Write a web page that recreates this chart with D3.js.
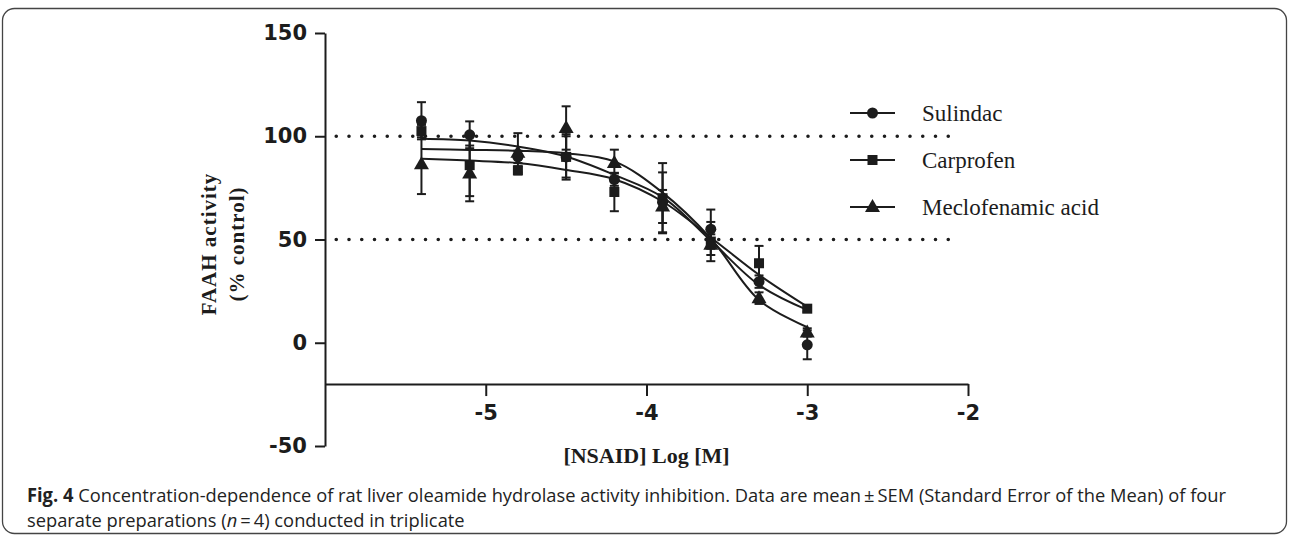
<!DOCTYPE html>
<html>
<head>
<meta charset="utf-8">
<script src="https://cdn.jsdelivr.net/npm/d3@7"></script>
<style>
  html, body { margin: 0; padding: 0; background: #fff; }
  svg { display: block; }
</style>
</head>
<body>
<svg id="chart" width="1290" height="536"></svg>
<script>
// ---------------- DATA ----------------
const logConc = [-5.4, -5.1, -4.8, -4.5, -4.2, -3.9, -3.6, -3.3, -3.0];
const seriesNames = ["Sulindac", "Carprofen", "Meclofenamic acid"];
const seriesShapes = ["circle", "square", "triangle"];

const sulindacMean = [107.5, 100.7, 90, 90, 79, 68, 55, 29.6, -1];
const sulindacSEM  = [9, 6.5, 3, 11, 3, 14.5, 9.5, 3, 7];
const carprofenMean = [102.5, 86, 83.5, 90, 73, 70, 49, 38.5, 16.5];
const carprofenSEM  = [3, 15, 2, 10, 9.3, 17, 9.5, 8.4, 1.5];
const meclofenamicMean = [86.5, 82, 92, 104, 87, 66, 47.5, 21.6, 5];
const meclofenamicSEM  = [14.5, 13.5, 9.5, 10.5, 6.5, 8, 5, 2.8, 2];

// fitted curves at the same log concentrations
const sulindacFit = [98.8, 97.9, 95, 90.2, 81.3, 70.5, 49.5, 28, 15.9];
const carprofenFit = [89.1, 88.2, 87, 83.7, 79.2, 68.4, 51, 32.9, 17.5];
const meclofenamicFit = [93.8, 93.4, 93, 91.8, 87.8, 72.7, 50.5, 20.7, 7.5];

const xTicks = [-5, -4, -3, -2];
const xTickLabels = ["-5", "-4", "-3", "-2"];
const yTicks = [-50, 0, 50, 100, 150];
const yTickLabels = ["-50", "0", "50", "100", "150"];
const refLevels = [100, 50];
const refSpan = [-5.93, -2.11];
const xAxisAt = -20;

const xTitle = "[NSAID] Log [M]";
const yTitle = ["FAAH activity", "(% control)"];
const captionBold = "Fig. 4";
const captionLine1 = " Concentration-dependence of rat liver oleamide hydrolase activity inhibition. Data are mean\u2009\u00b1\u2009SEM (Standard Error of the Mean) of four";
const captionLine2a = "separate preparations (";
const captionLine2n = "n";
const captionLine2b = "\u2009=\u20094) conducted in triplicate";

// ---------------- DRAW ----------------
const svg = d3.select("#chart");
const ink = "#1c1c1c";

svg.append("rect").attr("x", 0).attr("y", 0).attr("width", 1290).attr("height", 536).attr("fill", "#fff");
// frame
svg.append("rect")
  .attr("x", 2.5).attr("y", 8.5).attr("width", 1284).attr("height", 525)
  .attr("rx", 12).attr("ry", 12)
  .attr("fill", "none").attr("stroke", "#444").attr("stroke-width", 1.3);

const x = d3.scaleLinear().domain([-6, -2]).range([325, 968]);
const y = d3.scaleLinear().domain([-50, 150]).range([446, 33]);

// reference dotted lines
svg.append("g").selectAll("line").data(refLevels).join("line")
  .attr("x1", x(refSpan[0])).attr("x2", x(refSpan[1]))
  .attr("y1", d => y(d)).attr("y2", d => y(d))
  .attr("stroke", ink).attr("stroke-width", 3.6)
  .attr("stroke-linecap", "round")
  .attr("stroke-dasharray", "0 12.75");

// y axis
const yAxis = svg.append("g").attr("transform", `translate(${x(-6)},0)`)
  .call(d3.axisLeft(y).tickValues(yTicks).tickFormat((d, i) => yTickLabels[i]).tickSize(10).tickSizeOuter(0).tickPadding(8));
yAxis.select(".domain").attr("stroke", ink).attr("stroke-width", 2);
yAxis.selectAll(".tick line").attr("stroke", ink).attr("stroke-width", 2);
yAxis.selectAll(".tick text")
  .attr("fill", ink)
  .style("font-family", "'DejaVu Sans', Verdana, sans-serif")
  .style("font-weight", "bold").style("font-size", "21px");

// x axis
const xAxis = svg.append("g").attr("transform", `translate(0,${y(xAxisAt)})`)
  .call(d3.axisBottom(x).tickValues(xTicks).tickFormat((d, i) => xTickLabels[i]).tickSize(12).tickSizeOuter(0).tickPadding(9));
xAxis.select(".domain").attr("stroke", ink).attr("stroke-width", 2);
xAxis.selectAll(".tick line").attr("stroke", ink).attr("stroke-width", 2);
xAxis.selectAll(".tick text")
  .attr("fill", ink)
  .style("font-family", "'DejaVu Sans', Verdana, sans-serif")
  .style("font-weight", "bold").style("font-size", "21px");

// titles
svg.append("text")
  .attr("x", (x(-6) + x(-2)) / 2).attr("y", 463)
  .attr("text-anchor", "middle")
  .style("font-family", "'Liberation Serif', 'Times New Roman', serif")
  .style("font-weight", "bold").style("font-size", "22px")
  .attr("fill", ink).text(xTitle);

const yt = svg.append("text")
  .attr("transform", "translate(223,244) rotate(-90)")
  .attr("text-anchor", "middle")
  .style("font-family", "'Liberation Serif', 'Times New Roman', serif")
  .style("font-weight", "bold").style("font-size", "21px")
  .style("letter-spacing", "1px")
  .attr("fill", ink);
yt.append("tspan").attr("x", 0).attr("y", -7).text(yTitle[0]);
yt.append("tspan").attr("x", 0).attr("y", 21).text(yTitle[1]);

// series
const series = [
  {name: seriesNames[0], shape: seriesShapes[0], mean: sulindacMean, sem: sulindacSEM, fit: sulindacFit},
  {name: seriesNames[1], shape: seriesShapes[1], mean: carprofenMean, sem: carprofenSEM, fit: carprofenFit},
  {name: seriesNames[2], shape: seriesShapes[2], mean: meclofenamicMean, sem: meclofenamicSEM, fit: meclofenamicFit}
];

const line = d3.line().x(d => x(d[0])).y(d => y(d[1])).curve(d3.curveCatmullRom.alpha(0.5));

function marker(g, shape, cx, cy) {
  if (shape === "circle") {
    g.append("circle").attr("cx", cx).attr("cy", cy).attr("r", 5.5).attr("fill", ink);
  } else if (shape === "square") {
    g.append("rect").attr("x", cx - 5).attr("y", cy - 5).attr("width", 10).attr("height", 10).attr("fill", ink);
  } else {
    g.append("path").attr("d", `M${cx},${cy - 8}L${cx + 7.5},${cy + 5}L${cx - 7.5},${cy + 5}Z`).attr("fill", ink);
  }
}

const plot = svg.append("g");
series.forEach(s => {
  plot.append("path")
    .datum(logConc.map((c, i) => [c, s.fit[i]]))
    .attr("d", line).attr("fill", "none").attr("stroke", ink).attr("stroke-width", 2);
});
series.forEach(s => {
  const g = plot.append("g");
  logConc.forEach((c, i) => {
    const cx = x(c), lo = y(s.mean[i] - s.sem[i]), hi = y(s.mean[i] + s.sem[i]);
    g.append("line").attr("x1", cx).attr("x2", cx).attr("y1", lo).attr("y2", hi).attr("stroke", ink).attr("stroke-width", 2);
    [lo, hi].forEach(yy => g.append("line").attr("x1", cx - 4.5).attr("x2", cx + 4.5).attr("y1", yy).attr("y2", yy).attr("stroke", ink).attr("stroke-width", 2));
  });
});
series.forEach(s => {
  const g = plot.append("g");
  logConc.forEach((c, i) => marker(g, s.shape, x(c), y(s.mean[i])));
});

// legend
const legY = [113, 160, 207];
series.forEach((s, i) => {
  const g = svg.append("g");
  g.append("line").attr("x1", 850).attr("x2", 895).attr("y1", legY[i]).attr("y2", legY[i]).attr("stroke", ink).attr("stroke-width", 2);
  marker(g, s.shape, 872.5, legY[i]);
  g.append("text").attr("x", 922).attr("y", legY[i] + 8)
    .style("font-family", "'Liberation Serif', 'Times New Roman', serif")
    .style("font-size", "23px").attr("fill", ink).text(s.name);
});

// caption (condensed horizontally to match the narrow journal font)
const capFont = "'Open Sans', 'Noto Sans', sans-serif";
const cap = svg.append("g");
const c1 = cap.append("text").attr("x", 0).attr("y", 0)
  .style("font-family", capFont).style("font-size", "19px").attr("fill", "#222");
c1.append("tspan").style("font-weight", "bold").text(captionBold);
c1.append("tspan").text(captionLine1);
const c2 = cap.append("text").attr("x", 0).attr("y", 25)
  .style("font-family", capFont).style("font-size", "19px").attr("fill", "#222");
c2.append("tspan").text(captionLine2a);
c2.append("tspan").style("font-style", "italic").text(captionLine2n);
c2.append("tspan").text(captionLine2b);
const natural = c1.node().getComputedTextLength();
const sx = natural > 0 ? 1200 / natural : 1;
cap.attr("transform", `translate(27,502) scale(${sx},1)`);
</script>
</body>
</html>
